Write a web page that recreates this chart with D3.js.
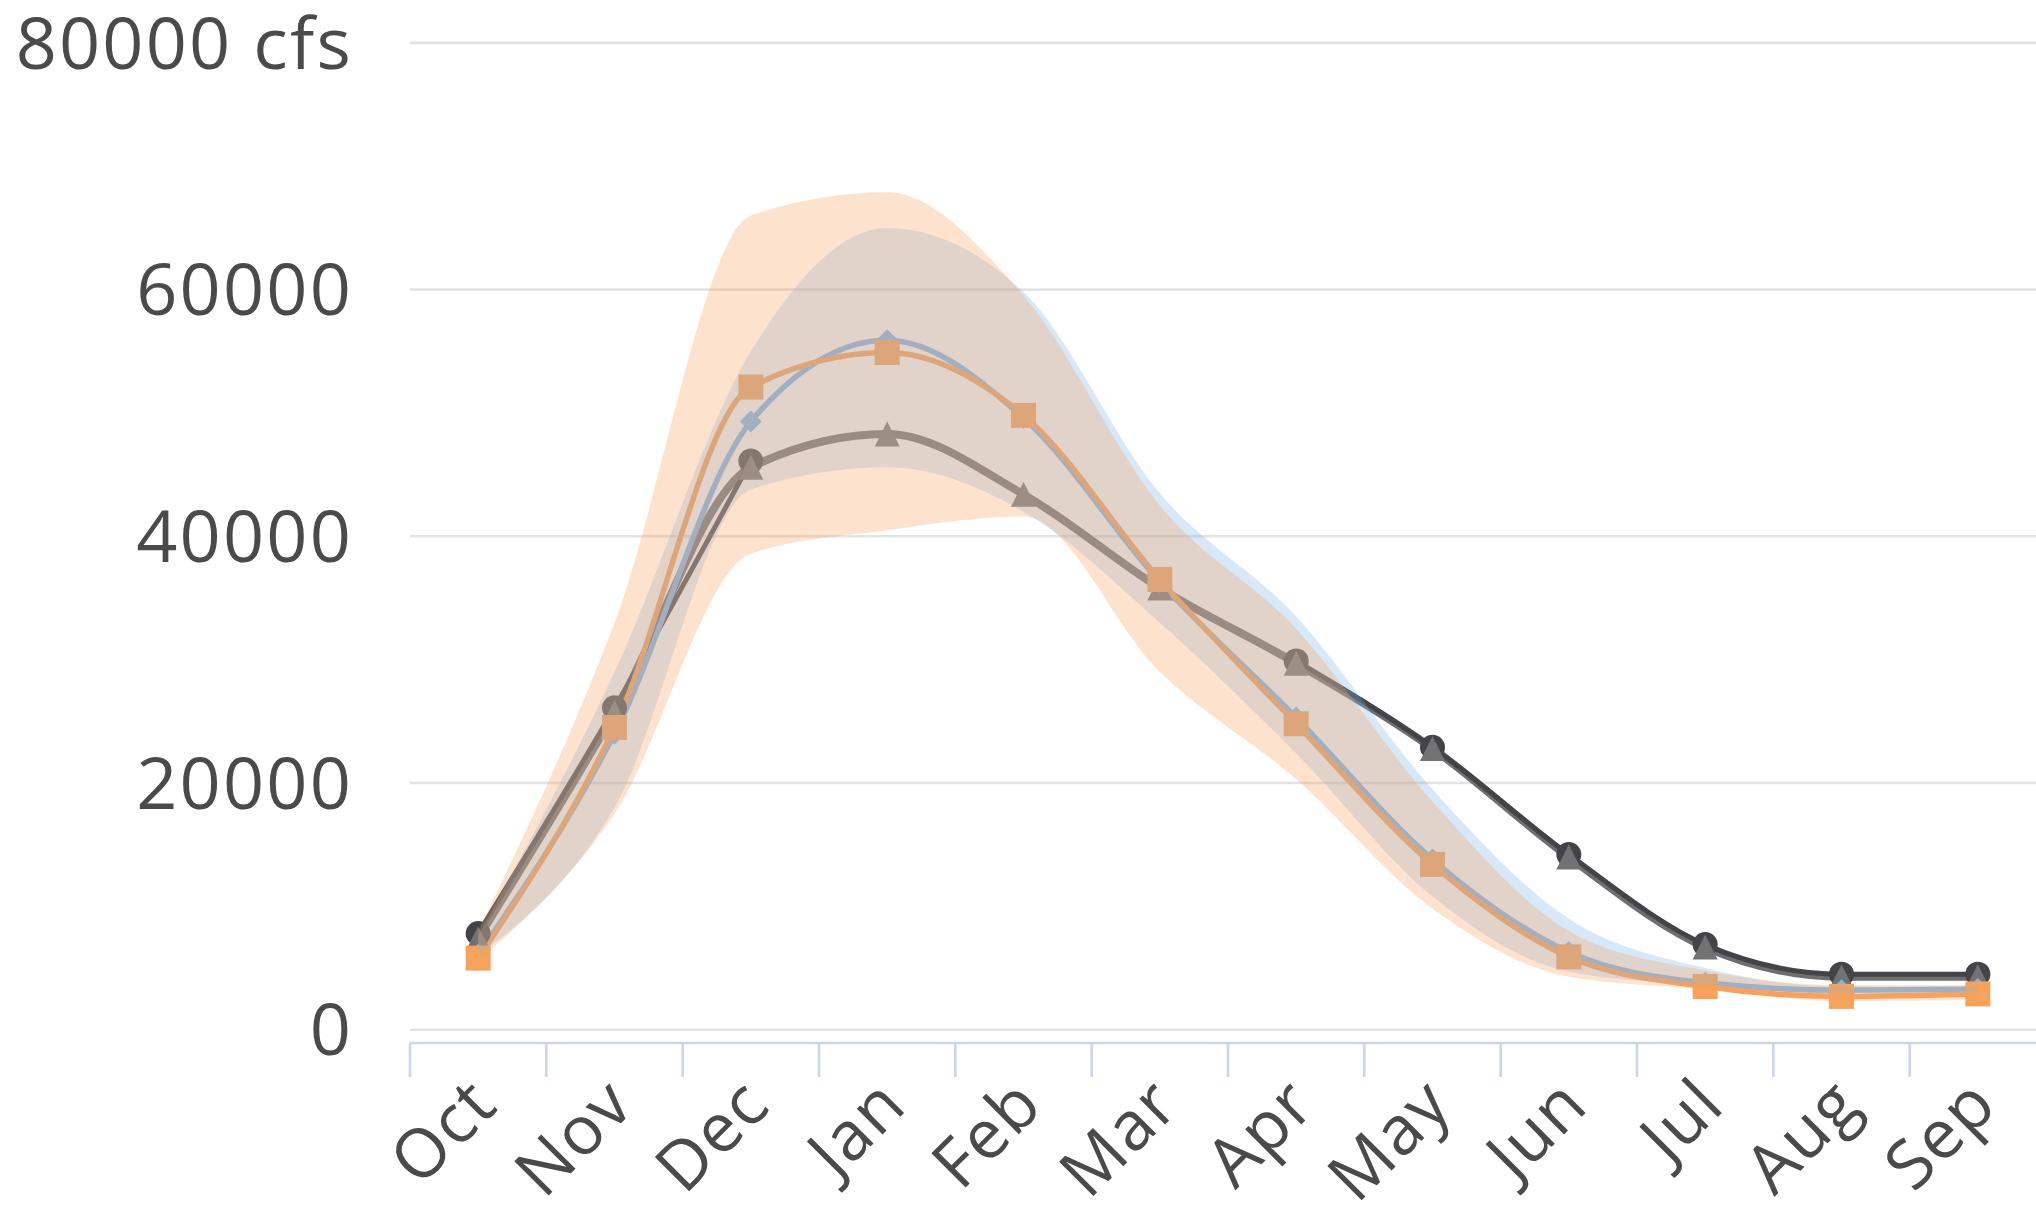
<!DOCTYPE html>
<html>
<head>
<meta charset="utf-8">
<script src="https://cdn.jsdelivr.net/npm/d3@7/dist/d3.min.js"></script>
<style>
  html, body { margin: 0; padding: 0; background: #ffffff; }
  svg { display: block; }
  text { font-family: "Open Sans", "Noto Sans", sans-serif; fill: #4a4a4a; }
</style>
</head>
<body>
<svg id="chart" width="2036" height="1211"></svg>
<script>
// Monthly streamflow, water year Oct–Sep (cfs)
const months = ["Oct", "Nov", "Dec", "Jan", "Feb", "Mar", "Apr", "May", "Jun", "Jul", "Aug", "Sep"];

const observed = [7800, 26100, 46100, null, null, null, 29900, 22900, 14200, 6900, 4500, 4500];
const median   = [7400, 25700, 45600, 48300, 43400, 35800, 29700, 22800, 14000, 6700, 4300, 4300];
const blueForecast   = [6100, 24000, 49300, 55900, 49600, 36300, 25300, 13800, 6300, 3800, 3200, 3300];
const orangeForecast = [5800, 24500, 52100, 54900, 49800, 36500, 24800, 13400, 5900, 3500, 2700, 2900];

const blueLow    = [6000, 18000, 43800, 45600, 42000, 33000, 22400, 10800, 4700, 3600, 3000, 3000];
const blueHigh   = [7600, 29000, 55000, 65000, 59800, 43500, 33500, 19500, 9000, 5000, 3500, 3500];
const orangeLow  = [5600, 17500, 38600, 40500, 41600, 29000, 20300,  9800, 4300, 3300, 2300, 2400];
const orangeHigh = [8000, 33000, 66000, 67900, 59500, 42500, 32500, 18500, 8000, 4800, 3600, 3600];

const yTicks = [0, 20000, 40000, 60000, 80000];

const svg = d3.select("#chart");

const x = d3.scaleBand().domain(months).range([410, 2046]).padding(0);
const y = d3.scaleLinear().domain([0, 80000]).range([1029.7, 42.9]);
const cx = m => x(m) + x.bandwidth() / 2;

// horizontal grid
svg.append("g").selectAll("line").data(yTicks).join("line")
  .attr("x1", 410).attr("x2", 2036)
  .attr("y1", d => y(d)).attr("y2", d => y(d))
  .attr("stroke", "#e3e3e3").attr("stroke-width", 2.6);

// y labels
svg.append("g").selectAll("text").data(yTicks).join("text")
  .attr("x", 353).attr("y", d => y(d)).attr("dy", "0.357em")
  .attr("text-anchor", "end")
  .style("font-size", "72px").style("letter-spacing", "2.2px")
  .text((d, i) => i === yTicks.length - 1 ? d + " cfs" : d);

// x axis line and ticks
const axisY = 1043;
svg.append("line").attr("x1", 410).attr("x2", 2036).attr("y1", axisY).attr("y2", axisY)
  .attr("stroke", "#ccd6eb").attr("stroke-width", 2.6);
svg.append("g").selectAll("line").data(months).join("line")
  .attr("x1", d => x(d)).attr("x2", d => x(d))
  .attr("y1", axisY).attr("y2", axisY + 34)
  .attr("stroke", "#ccd6eb").attr("stroke-width", 2.6);

// x labels, rotated
svg.append("g").selectAll("text").data(months).join("text")
  .attr("transform", d => `translate(${cx(d) + 5},${axisY + 48}) rotate(-45)`)
  .attr("text-anchor", "end").attr("dy", "0.35em")
  .style("font-size", "68px").style("letter-spacing", "1.5px")
  .text(d => d);

const lineGen = d3.line()
  .defined(d => d.v != null)
  .x(d => cx(d.m)).y(d => y(d.v))
  .curve(d3.curveMonotoneX);

const areaGen = d3.area()
  .x(d => cx(d.m)).y0(d => y(d.lo)).y1(d => y(d.hi))
  .curve(d3.curveMonotoneX);

const pts = arr => months.map((m, i) => ({ m, v: arr[i] }));
const band = (lo, hi) => months.map((m, i) => ({ m, lo: lo[i], hi: hi[i] }));

const plot = svg.append("g");

// lines
plot.append("path").datum(pts(median)).attr("d", lineGen)
  .attr("fill", "none").attr("stroke", "#6e6e6e").attr("stroke-width", 8);
plot.append("path").datum(pts(observed)).attr("d", lineGen)
  .attr("fill", "none").attr("stroke", "#434348").attr("stroke-width", 5);
plot.append("path").datum(pts(blueForecast)).attr("d", lineGen)
  .attr("fill", "none").attr("stroke", "#7cb5ec").attr("stroke-width", 5.5);
plot.append("path").datum(pts(orangeForecast)).attr("d", lineGen)
  .attr("fill", "none").attr("stroke", "#f7a35c").attr("stroke-width", 5.5);

// markers
const R = 12.5;
const shapes = {
  circle:   (px, py) => `M${px - R},${py}a${R},${R} 0 1,0 ${2 * R},0a${R},${R} 0 1,0 ${-2 * R},0Z`,
  triangle: (px, py) => `M${px},${py - R}L${px + R},${py + R}L${px - R},${py + R}Z`,
  diamond:  (px, py) => { const r = 11; return `M${px},${py - r}L${px + r},${py}L${px},${py + r}L${px - r},${py}Z`; },
  square:   (px, py) => `M${px - R},${py - R}h${2 * R}v${2 * R}h${-2 * R}Z`
};
function markers(arr, shape, color) {
  plot.append("g").selectAll("path").data(pts(arr).filter(d => d.v != null)).join("path")
    .attr("d", d => shapes[shape](cx(d.m), y(d.v)))
    .attr("fill", color);
}
markers(observed, "circle", "#434348");
markers(median, "triangle", "#727272");
markers(blueForecast, "diamond", "#7cb5ec");
markers(orangeForecast, "square", "#f7a35c");

// forecast ranges
plot.append("path").datum(band(blueLow, blueHigh)).attr("d", areaGen)
  .attr("fill", "#7cb5ec").attr("fill-opacity", 0.3);
plot.append("path").datum(band(orangeLow, orangeHigh)).attr("d", areaGen)
  .attr("fill", "#f7a35c").attr("fill-opacity", 0.3);
</script>
</body>
</html>
